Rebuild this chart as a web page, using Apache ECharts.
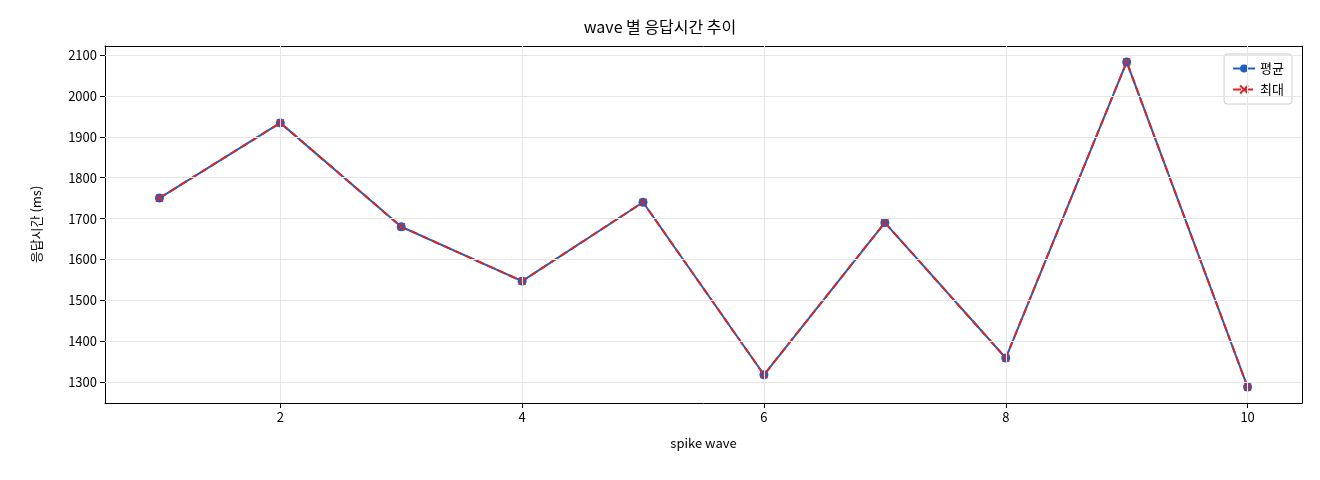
<!DOCTYPE html><html><head><meta charset="utf-8"><script src="https://cdn.jsdelivr.net/npm/echarts@6/dist/echarts.min.js"></script></head><body style="margin:0"><div id="c" style="width:1320px;height:480px"></div><script>
const waves=[1,2,3,4,5,6,7,8,9,10];
const avgVals=[1750,1934,1680,1547,1740,1318,1690,1359,2083,1288];
const maxVals=[1750,1934,1680,1547,1740,1318,1690,1359,2083,1288];
const xTicks=[2,4,6,8,10];
const yTicks=[1300,1400,1500,1600,1700,1800,1900,2000,2100];
const F='"Noto Sans CJK KR","DejaVu Sans",sans-serif';
const ch=echarts.init(document.getElementById('c'));
ch.setOption({
 animation:false,textStyle:{fontFamily:F},
 title:{text:'wave 별 응답시간 추이',left:'center',top:14,textStyle:{fontSize:16,fontWeight:'normal',color:'#000',fontFamily:F}},
 legend:{data:['평균','최대'],right:28,top:54,orient:'vertical',itemGap:8,borderColor:'#ccc',borderWidth:1,borderRadius:3,padding:[8,8],itemWidth:22,itemHeight:10,textStyle:{fontSize:13,fontFamily:F,color:'#000'}},
 grid:{left:105,right:18,top:46,bottom:77},
 xAxis:[{type:'value',min:0.55,max:10.45,name:'spike wave',nameLocation:'middle',nameGap:34,nameTextStyle:{fontSize:13,color:'#000'},
  axisLine:{lineStyle:{color:'#000'}},axisTick:{customValues:xTicks,lineStyle:{color:'#000'}},
  axisLabel:{customValues:xTicks,fontSize:13,color:'#000'},splitLine:{show:false}},
  {type:'value',position:'top',min:0,max:1,axisLine:{show:true,onZero:false,lineStyle:{color:'#000'}},axisTick:{show:false},axisLabel:{show:false},splitLine:{show:false}}],
 yAxis:[{type:'value',min:1249,max:2122,name:'응답시간 (ms)',nameLocation:'middle',nameGap:62,nameTextStyle:{fontSize:13,color:'#000'},
  axisLine:{show:true,lineStyle:{color:'#000'}},axisTick:{show:true,customValues:yTicks,lineStyle:{color:'#000'}},
  axisLabel:{customValues:yTicks,fontSize:13,color:'#000',formatter:v=>String(v)},splitLine:{show:false}},
  {type:'value',position:'right',min:0,max:1,axisLine:{show:true,onZero:false,lineStyle:{color:'#000'}},axisTick:{show:false},axisLabel:{show:false},splitLine:{show:false}}],
 series:[
  {type:'line',name:'grid',silent:true,data:[],markLine:{silent:true,symbol:'none',label:{show:false},lineStyle:{color:'#e6e6e6',type:'solid',width:1},
    data:xTicks.map(v=>({xAxis:v})).concat(yTicks.map(v=>({yAxis:v})))}},
  {name:'평균',type:'line',data:waves.map((w,i)=>[w,avgVals[i]]),symbol:'circle',symbolSize:9,itemStyle:{color:'#1f5fbf'},lineStyle:{color:'#1f5fbf',width:2}},
  {name:'최대',type:'line',data:waves.map((w,i)=>[w,maxVals[i]]),symbol:'path://M0,0L10,10M10,0L0,10',symbolSize:7,itemStyle:{color:'#d62728',borderColor:'#d62728',borderWidth:1.5},lineStyle:{color:'#d62728',width:2,type:'dashed'}}
 ]
});
</script></body></html>
